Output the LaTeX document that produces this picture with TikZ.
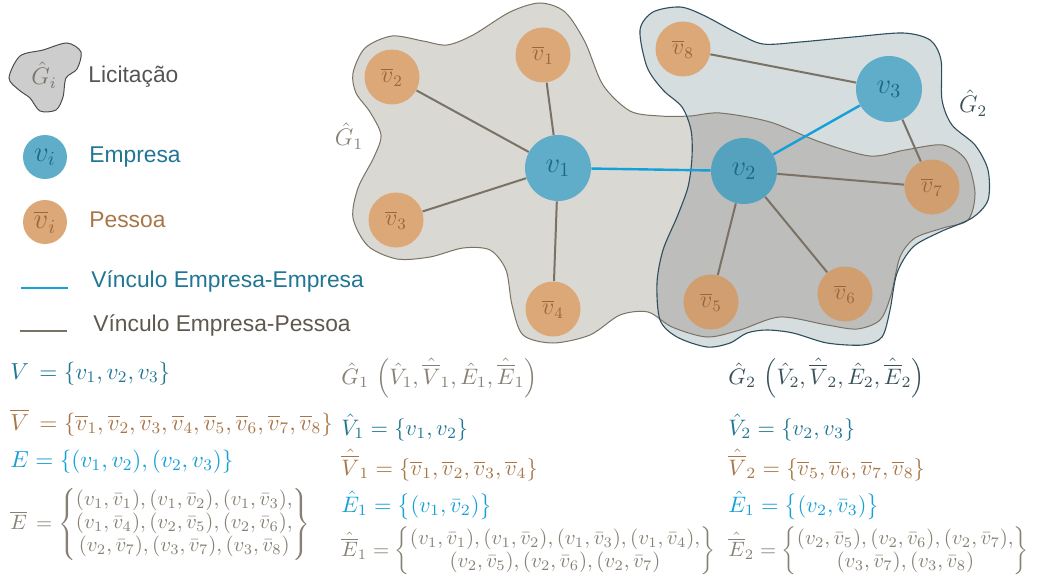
\RequirePackage{fix-cm}
\documentclass[tikz,border=0pt]{standalone}
\usepackage{amsmath}
\usepackage{fontspec}
\setsansfont{Liberation Sans}
\definecolor{empF}{RGB}{95,173,201}
\definecolor{empD}{RGB}{85,162,190}
\definecolor{empN}{RGB}{28,104,138}
\definecolor{pesF}{RGB}{221,168,120}
\definecolor{pesD}{RGB}{209,158,111}
\definecolor{pesN}{RGB}{150,104,60}
\definecolor{edgeG}{RGB}{122,114,101}
\definecolor{edgeB}{RGB}{20,160,216}
\definecolor{gOneF}{RGB}{217,216,211}
\definecolor{gOneS}{RGB}{122,114,101}
\definecolor{gTwoF}{RGB}{214,221,223}
\definecolor{gTwoS}{RGB}{46,78,94}
\definecolor{ovF}{RGB}{189,189,187}
\definecolor{txTeal}{RGB}{33,118,148}
\definecolor{txBrown}{RGB}{168,118,72}
\definecolor{txBlue}{RGB}{22,160,214}
\definecolor{txGrey}{RGB}{135,128,116}
\definecolor{txDark}{RGB}{55,80,90}
\definecolor{txLic}{RGB}{85,85,85}
\definecolor{txVEP}{RGB}{95,88,78}
\definecolor{legBlob}{RGB}{205,205,205}
\newcommand{\hob}[1]{\hat{\overline{#1}}}
\def\GonePath{plot[smooth cycle] coordinates {(353,73) (365,48) (392,36) (423,41) (447,45) (473,35) (510,12) (540,3) (565,12) (585,42) (603,85) (630,111) (660,116) (690,116) (720,113) (770,122) (820,142) (870,156) (905,150) (943,145) (966,160) (975,193) (968,220) (943,228) (915,238) (900,257) (891,295) (880,320) (857,329) (827,325) (780,317) (740,330) (707,337) (672,327) (648,312) (620,315) (590,335) (553,343) (523,335) (512,305) (506,270) (490,250) (463,248) (430,257) (397,259) (368,246) (353,218) (358,188) (374,157) (381,135) (370,112) (356,93)}}
\def\GtwoPath{plot[smooth cycle] coordinates {(640,30) (653,12) (680,7) (703,15) (737,33) (763,44) (800,42) (853,37) (903,33) (930,40) (941,60) (942,100) (952,125) (975,145) (988,170) (988,200) (972,218) (940,232) (913,247) (897,273) (890,310) (882,337) (863,345) (827,343) (793,333) (767,330) (747,333) (730,343) (707,347) (677,337) (660,320) (657,283) (663,250) (677,217) (688,187) (692,157) (691,130) (682,107) (663,90) (647,67)}}
\tikzset{
 emp/.style={circle,fill=empF,inner sep=0pt,minimum size=33pt,text=empN,font=\fontsize{14.4}{14.4}\selectfont},
 empd/.style={emp,fill=empD},
 pes/.style={circle,fill=pesF,inner sep=0pt,minimum size=27.5pt,text=pesN,font=\fontsize{12}{12}\selectfont},
 pesd/.style={pes,fill=pesD},
 epl/.style={draw=edgeG,line width=1pt},
 eel/.style={draw=edgeB,line width=1.2pt},
 leg/.style={anchor=base west,font=\sffamily\fontsize{11.4}{13}\selectfont,inner sep=0pt},
 mth/.style={anchor=base west,inner sep=0pt,font=\fontsize{11.2}{11.2}\selectfont},
 mthbig/.style={anchor=base west,inner sep=0pt,font=\fontsize{11.6}{11.6}\selectfont},
 mthbr/.style={anchor=west,inner sep=0pt,font=\fontsize{10.4}{10.4}\selectfont},
}
\begin{document}
\begin{tikzpicture}[x=0.5pt,y=-0.5pt]
\useasboundingbox (0,0) rectangle (1037,583);
% blobs
\fill[gOneF] \GonePath;
\fill[gTwoF] \GtwoPath;
\begin{scope}
\clip \GonePath;
\fill[ovF] \GtwoPath;
\end{scope}
\draw[gOneS,line width=0.5pt] \GonePath;
\draw[gTwoS,line width=0.55pt] \GtwoPath;
\node[text=txGrey,font=\fontsize{12}{12}\selectfont] (lg1) at (349,136) {$\hat{G}_1$};
\node[text=txDark,font=\fontsize{12}{12}\selectfont] (lg2) at (973,103) {$\hat{G}_2$};
% nodes
\node[emp] (v1) at (558,168) {$v_1$};
\node[empd] (v2) at (744,171) {$v_2$};
\node[emp] (v3) at (889,89) {$v_3$};
\node[pes] (p1) at (543,55) {$\overline{v}_1$};
\node[pes] (p2) at (392,77) {$\overline{v}_2$};
\node[pes] (p3) at (396,220) {$\overline{v}_3$};
\node[pes] (p4) at (553,309) {$\overline{v}_4$};
\node[pesd] (p5) at (711,302) {$\overline{v}_5$};
\node[pesd] (p6) at (845,294) {$\overline{v}_6$};
\node[pesd] (p7) at (932,187) {$\overline{v}_7$};
\node[pes] (p8) at (683,49) {$\overline{v}_8$};
% edges
\draw[epl] (v1) -- (p1);
\draw[epl] (v1) -- (p2);
\draw[epl] (v1) -- (p3);
\draw[epl] (v1) -- (p4);
\draw[epl] (v2) -- (p5);
\draw[epl] (v2) -- (p6);
\draw[epl] (v2) -- (p7);
\draw[epl] (v3) -- (p7);
\draw[epl] (v3) -- (p8);
\draw[eel] (v1) -- (v2);
\draw[eel] (v2) -- (v3);
% legend
\draw[fill=legBlob,draw=black!70,line width=0.5pt] plot[smooth cycle] coordinates {(9,78) (20,56) (43,50) (67,43) (81,52) (77,69) (66,78) (63,97) (56,110) (40,111) (30,98) (19,90)};
\node[text=txGrey!90!black,font=\fontsize{12}{12}\selectfont] (lgi) at (44,75) {$\hat{G}_i$};
\node[leg,text=txLic] (tlic) at (88,83) {Licitação};
\node[emp,minimum size=22pt,font=\fontsize{14.4}{14.4}\selectfont] (lv) at (45,157) {$v_i$};
\node[leg,text=txTeal] (temp) at (89,162) {Empresa};
\node[pes,minimum size=22pt,font=\fontsize{14.4}{14.4}\selectfont] (lp) at (45,222) {$\overline{v}_i$};
\node[leg,text=txBrown] (tpes) at (89,227) {Pessoa};
\coordinate (la1) at (21,288);
\coordinate (la2) at (68,288);
\draw[eel] (la1) -- (la2);
\node[leg,text=txTeal] (tvee) at (91,287) {Vínculo Empresa-Empresa};
\coordinate (lb1) at (20,331);
\coordinate (lb2) at (67,331);
\draw[epl] (lb1) -- (lb2);
\node[leg,text=txVEP] (tvep) at (93,331) {Vínculo Empresa-Pessoa};
% left column
\node[mthbig,text=txTeal] (mV) at (10,379) {$V\,=\{v_1,v_2,v_3\}$};
\node[mthbig,text=txBrown] (mVb) at (10,430) {$\overline{V}\,=\{\overline{v}_1,\overline{v}_2,\overline{v}_3,\overline{v}_4,\overline{v}_5,\overline{v}_6,\overline{v}_7,\overline{v}_8\}$};
\node[mthbig,text=txBlue] (mE) at (10,467) {$E=\{(v_1,v_2),(v_2,v_3)\}$};
\node[mthbr,text=txGrey] (mEb) at (10,524) {$\renewcommand{\arraystretch}{1.1}\overline{E}\,=\left\{\begin{array}{@{}c@{}}(v_1,\bar{v}_1),(v_1,\bar{v}_2),(v_1,\bar{v}_3),\\(v_1,\bar{v}_4),(v_2,\bar{v}_5),(v_2,\bar{v}_6),\\(v_2,\bar{v}_7),(v_3,\bar{v}_7),(v_3,\bar{v}_8)\end{array}\right\}$};
% middle column
\node[mth,text=txGrey] (mG1) at (341,384) {$\hat{G}_1\,\left(\hat{V}_1,\hob{V}_1,\hat{E}_1,\hob{E}_1\right)$};
\node[mth,text=txTeal] (mV1) at (341,435) {$\hat{V}_1=\{v_1,v_2\}$};
\node[mth,text=txBrown] (mVb1) at (341,475) {$\hob{V}_1=\{\overline{v}_1,\overline{v}_2,\overline{v}_3,\overline{v}_4\}$};
\node[mth,text=txBlue] (mE1) at (341,512) {$\hat{E}_1=\big\{(v_1,\bar{v}_2)\big\}$};
\node[mthbr,text=txGrey] (mEb1) at (341,551) {$\renewcommand{\arraystretch}{1.1}\hob{E}_1=\left\{\begin{array}{@{}c@{}}(v_1,\bar{v}_1),(v_1,\bar{v}_2),(v_1,\bar{v}_3),(v_1,\bar{v}_4),\\(v_2,\bar{v}_5),(v_2,\bar{v}_6),(v_2,\bar{v}_7)\end{array}\right\}$};
% right column
\node[mth,text=txDark] (mG2) at (728,384) {$\hat{G}_2\,\left(\hat{V}_2,\hob{V}_2,\hat{E}_2,\hob{E}_2\right)$};
\node[mth,text=txTeal] (mV2) at (728,435) {$\hat{V}_2=\{v_2,v_3\}$};
\node[mth,text=txBrown] (mVb2) at (728,475) {$\hob{V}_2=\{\overline{v}_5,\overline{v}_6,\overline{v}_7,\overline{v}_8\}$};
\node[mth,text=txBlue] (mE2) at (728,512) {$\hat{E}_1=\big\{(v_2,\bar{v}_3)\big\}$};
\node[mthbr,text=txGrey] (mEb2) at (728,551) {$\renewcommand{\arraystretch}{1.1}\hob{E}_2=\left\{\begin{array}{@{}c@{}}(v_2,\bar{v}_5),(v_2,\bar{v}_6),(v_2,\bar{v}_7),\\(v_3,\bar{v}_7),(v_3,\bar{v}_8)\end{array}\right\}$};
\end{tikzpicture}
\end{document}
